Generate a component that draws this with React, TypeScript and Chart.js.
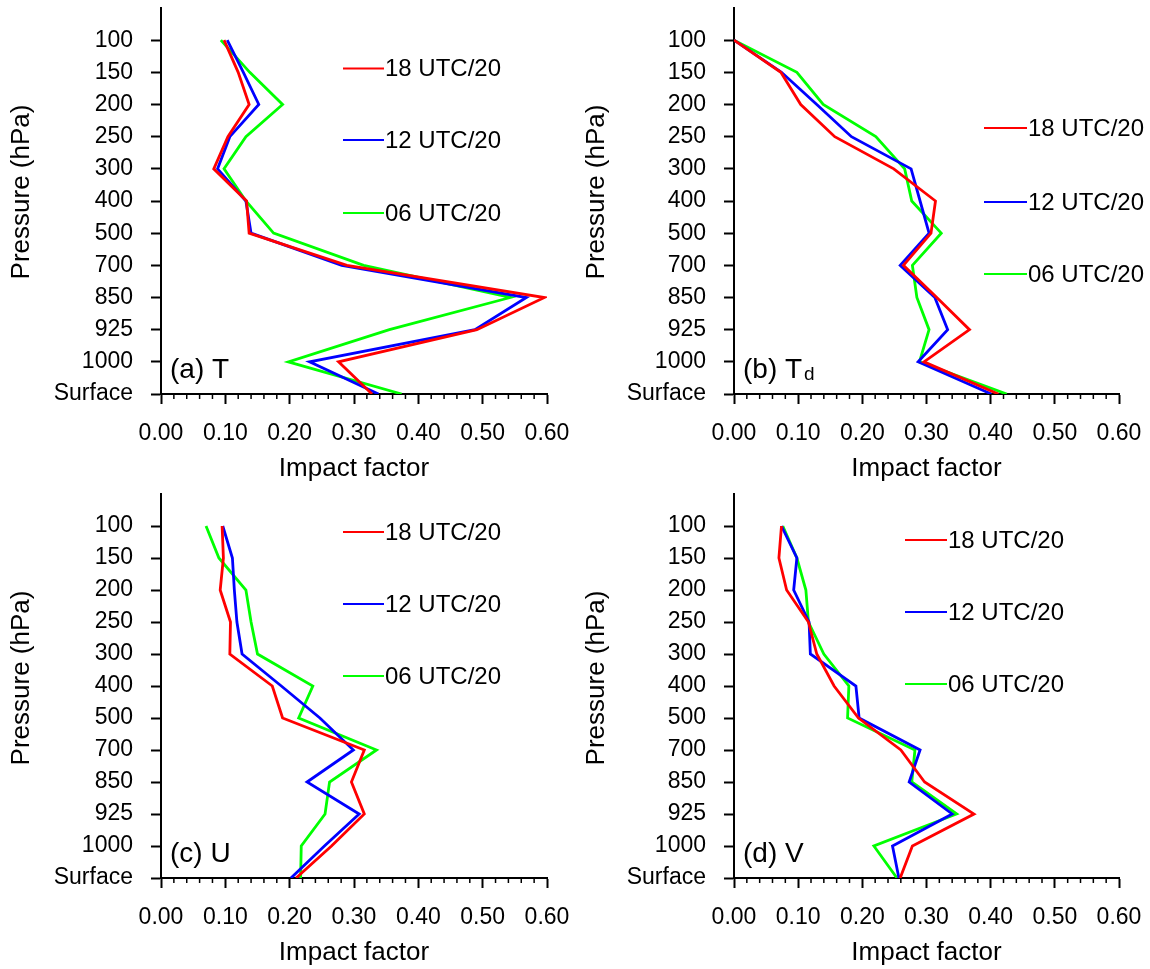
import React, { useEffect, useRef } from "react";
import { Chart, registerables } from "chart.js";

Chart.register(...registerables);

const FONT = "'Liberation Sans', Arial, Helvetica, sans-serif";

const levels = ["100", "150", "200", "250", "300", "400", "500", "700", "850", "925", "1000", "Surface"];
const xTicks = [0, 0.1, 0.2, 0.3, 0.4, 0.5, 0.6];
const minorStep = 0.02;
const seriesNames = ["18 UTC/20", "12 UTC/20", "06 UTC/20"];
const seriesColors = ["#ff0000", "#0000ff", "#00ff00"];

// (a) T
const tRed = [0.098, 0.12, 0.137, 0.104, 0.082, 0.133, 0.137, 0.289, 0.596, 0.491, 0.276, 0.328];
const tBlue = [0.103, 0.128, 0.152, 0.107, 0.088, 0.132, 0.14, 0.281, 0.568, 0.488, 0.231, 0.338];
const tGreen = [0.093, 0.138, 0.189, 0.132, 0.098, 0.132, 0.175, 0.315, 0.543, 0.355, 0.198, 0.374];

// (b) Td
const tdRed = [0.0, 0.073, 0.104, 0.157, 0.249, 0.314, 0.307, 0.264, 0.316, 0.367, 0.296, 0.412];
const tdBlue = [0.0, 0.074, 0.129, 0.183, 0.276, 0.29, 0.304, 0.259, 0.313, 0.333, 0.287, 0.401];
const tdGreen = [0.0, 0.098, 0.139, 0.221, 0.266, 0.277, 0.323, 0.278, 0.285, 0.304, 0.289, 0.425];

// (c) U
const uRed = [0.095, 0.097, 0.092, 0.108, 0.107, 0.173, 0.189, 0.316, 0.296, 0.316, 0.265, 0.21];
const uBlue = [0.096, 0.111, 0.114, 0.118, 0.126, 0.187, 0.247, 0.299, 0.227, 0.308, 0.254, 0.202];
const uGreen = [0.07, 0.09, 0.132, 0.14, 0.15, 0.236, 0.214, 0.335, 0.262, 0.255, 0.218, 0.217];

// (d) V
const vRed = [0.074, 0.07, 0.082, 0.116, 0.129, 0.156, 0.194, 0.26, 0.297, 0.374, 0.278, 0.259];
const vBlue = [0.074, 0.098, 0.093, 0.117, 0.119, 0.19, 0.195, 0.29, 0.273, 0.34, 0.247, 0.257];
const vGreen = [0.076, 0.098, 0.112, 0.116, 0.14, 0.179, 0.177, 0.282, 0.277, 0.347, 0.218, 0.254];

type PanelDef = {
  label: string;
  sub: string;
  series: number[][];
  left: number;
  top: number;
  area: { l: number; t: number; r: number; b: number };
  legend: { x1: number; x2: number; ys: number[] };
};

const W = 575;
const H = 484;

const panels: PanelDef[] = [
  {
    label: "(a) T", sub: "", series: [tRed, tBlue, tGreen], left: 0, top: 0,
    area: { l: 161, t: 8, r: 547, b: 394 },
    legend: { x1: 182, x2: 223, ys: [60.5, 132, 205] },
  },
  {
    label: "(b) T", sub: "d", series: [tdRed, tdBlue, tdGreen], left: 575, top: 0,
    area: { l: 159, t: 8, r: 544, b: 394 },
    legend: { x1: 250, x2: 293, ys: [120, 194, 266] },
  },
  {
    label: "(c) U", sub: "", series: [uRed, uBlue, uGreen], left: 0, top: 484,
    area: { l: 161, t: 10, r: 547, b: 394 },
    legend: { x1: 182, x2: 223, ys: [38, 110, 182] },
  },
  {
    label: "(d) V", sub: "", series: [vRed, vBlue, vGreen], left: 575, top: 484,
    area: { l: 159, t: 10, r: 544, b: 394 },
    legend: { x1: 171, x2: 213, ys: [46, 118, 190] },
  },
];

const decorPlugin = {
  id: "decor",
  afterDraw(chart: any, _args: any, opts: any) {
    const { ctx, chartArea: ca, scales } = chart;
    const xs = scales.x;
    ctx.save();
    // minor ticks on x axis
    ctx.strokeStyle = "#000";
    ctx.lineWidth = 1.5;
    const xmin = xTicks[0];
    const xmax = xTicks[xTicks.length - 1];
    const n = Math.round((xmax - xmin) / minorStep);
    for (let k = 0; k <= n; k++) {
      if (k % 5 === 0) continue;
      const px = xs.getPixelForValue(xmin + k * minorStep);
      ctx.beginPath();
      ctx.moveTo(px, ca.bottom);
      ctx.lineTo(px, ca.bottom + 5);
      ctx.stroke();
    }
    // legend
    const lg = opts.legend;
    ctx.font = `24px ${FONT}`;
    ctx.textBaseline = "middle";
    ctx.textAlign = "left";
    chart.data.datasets.forEach((ds: any, i: number) => {
      const y = ca.top + lg.ys[i];
      ctx.strokeStyle = ds.borderColor;
      ctx.lineWidth = 2;
      ctx.beginPath();
      ctx.moveTo(ca.left + lg.x1, y);
      ctx.lineTo(ca.left + lg.x2, y);
      ctx.stroke();
      ctx.fillStyle = "#000";
      ctx.fillText(ds.label, ca.left + lg.x2 + 1, y + 1);
    });
    // axis titles
    ctx.fillStyle = "#000";
    ctx.font = `26px ${FONT}`;
    ctx.textAlign = "center";
    ctx.textBaseline = "middle";
    ctx.fillText("Impact factor", (ca.left + ca.right) / 2, ca.bottom + 75);
    ctx.save();
    ctx.translate(opts.ytitleX, ca.top + 184);
    ctx.rotate(-Math.PI / 2);
    ctx.fillText("Pressure (hPa)", 0, 0);
    ctx.restore();
    // panel label
    ctx.font = `28px ${FONT}`;
    ctx.textAlign = "left";
    ctx.textBaseline = "alphabetic";
    const lx = ca.left + 9;
    const ly = ca.bottom - 16;
    ctx.fillText(opts.label, lx, ly);
    if (opts.sub) {
      const w = ctx.measureText(opts.label).width;
      ctx.font = `19px ${FONT}`;
      ctx.fillText(opts.sub, lx + w + 2, ly + 2);
    }
    ctx.restore();
  },
};

function Panel({ p }: { p: PanelDef }) {
  const ref = useRef<HTMLCanvasElement | null>(null);
  useEffect(() => {
    if (!ref.current) return;
    const a = p.area;
    const chart = new Chart(ref.current, {
      type: "line",
      data: {
        datasets: p.series.map((vals, si) => ({
          label: seriesNames[si],
          data: vals.map((v, i) => ({ x: v, y: i })),
          borderColor: seriesColors[si],
          backgroundColor: seriesColors[si],
          borderWidth: 2.8,
          pointRadius: 0,
          tension: 0,
          fill: false,
        })),
      },
      options: {
        animation: false,
        responsive: false,
        maintainAspectRatio: false,
        devicePixelRatio: 1,
        events: [],
        layout: { padding: { top: a.t, right: W - a.r, left: 0, bottom: 0 } },
        plugins: {
          legend: { display: false },
          tooltip: { enabled: false },
          decor: { legend: p.legend, label: p.label, sub: p.sub, ytitleX: 22 },
        } as any,
        scales: {
          x: {
            type: "linear",
            min: xTicks[0],
            max: xTicks[xTicks.length - 1],
            afterBuildTicks: (scale: any) => {
              scale.ticks = xTicks.map((v) => ({ value: v }));
            },
            afterFit: (scale: any) => {
              scale.height = H - a.b;
              scale.paddingLeft = 0;
              scale.paddingRight = 0;
            },
            grid: {
              display: true,
              drawOnChartArea: false,
              drawTicks: true,
              tickLength: 10,
              tickWidth: 2,
              tickColor: "#000",
            },
            border: { display: true, color: "#000", width: 2 },
            ticks: {
              color: "#000",
              font: { family: FONT, size: 23 },
              padding: 16,
              maxRotation: 0,
              autoSkip: false,
              callback: (v: any) => Number(v).toFixed(2),
            },
          },
          y: {
            type: "linear",
            reverse: true,
            min: -1,
            max: levels.length - 1,
            afterBuildTicks: (scale: any) => {
              scale.ticks = levels.map((_, i) => ({ value: i }));
            },
            afterFit: (scale: any) => {
              scale.width = a.l;
              scale.paddingTop = 0;
              scale.paddingBottom = 0;
            },
            grid: {
              display: true,
              drawOnChartArea: false,
              drawTicks: true,
              tickLength: 10,
              tickWidth: 2,
              tickColor: "#000",
            },
            border: { display: true, color: "#000", width: 2 },
            ticks: {
              color: "#000",
              font: { family: FONT, size: 23 },
              padding: 18,
              autoSkip: false,
              callback: (v: any) => levels[Math.round(Number(v))] ?? "",
            },
          },
        },
      },
      plugins: [decorPlugin],
    });
    return () => chart.destroy();
  }, [p]);
  return (
    <canvas
      ref={ref}
      width={W}
      height={H}
      style={{ position: "absolute", left: p.left, top: p.top, width: W, height: H }}
    />
  );
}

export default function App() {
  return (
    <div style={{ position: "absolute", left: 0, top: 0, width: 1150, height: 969, background: "#fff" }}>
      {panels.map((p, i) => (
        <Panel key={i} p={p} />
      ))}
    </div>
  );
}
